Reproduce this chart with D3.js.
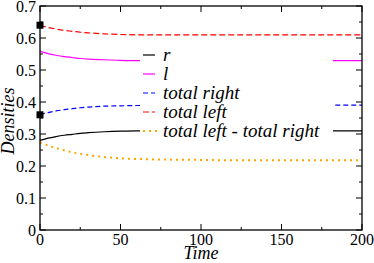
<!DOCTYPE html>
<html><head><meta charset="utf-8">
<script src="https://cdn.jsdelivr.net/npm/d3@7"></script>
<style>body{margin:0;background:#fff}svg{display:block}</style>
</head><body>
<svg id="c" width="374" height="263" font-family="Liberation Serif, DejaVu Serif, Times New Roman, Times, serif"></svg>
<script>
const times = [0, 5, 10, 15, 20, 25, 30, 40, 50, 60, 80, 100, 120, 140, 160, 180, 200];
const rVals  = [0.280, 0.287, 0.292, 0.296, 0.299, 0.302, 0.304, 0.307, 0.309, 0.310, 0.310, 0.310, 0.310, 0.310, 0.310, 0.310, 0.310];
const lVals  = [0.558, 0.551, 0.546, 0.542, 0.539, 0.536, 0.534, 0.532, 0.530, 0.529, 0.529, 0.529, 0.529, 0.529, 0.529, 0.529, 0.529];
const totalRight = [0.360, 0.367, 0.372, 0.376, 0.379, 0.382, 0.384, 0.387, 0.388, 0.389, 0.390, 0.390, 0.390, 0.390, 0.390, 0.390, 0.390];
const totalLeft  = [0.640, 0.633, 0.628, 0.624, 0.621, 0.618, 0.616, 0.613, 0.611, 0.610, 0.610, 0.610, 0.610, 0.610, 0.610, 0.610, 0.610];
const diffVals   = [0.274, 0.264, 0.256, 0.249, 0.243, 0.238, 0.234, 0.228, 0.224, 0.222, 0.220, 0.219, 0.218, 0.218, 0.218, 0.218, 0.218];
const markerTimes = [0, 0];
const markerVals = [0.64, 0.36];
const seriesNames = ["r", "l", "total right", "total left", "total left - total right"];
const xTicks = [0, 50, 100, 150, 200];
const xMinor = [25, 75, 125, 175];
const yTicks = [0, 0.1, 0.2, 0.3, 0.4, 0.5, 0.6, 0.7];
const yTickLabels = ["0", "0.1", "0.2", "0.3", "0.4", "0.5", "0.6", "0.7"];
const yMinor = [0.05, 0.15, 0.25, 0.35, 0.45, 0.55, 0.65];

const L = 40, R = 362, T = 6, B = 230;
const x = d3.scaleLinear().domain([0, 200]).range([L, R]);
const y = d3.scaleLinear().domain([0, 0.7]).range([B, T]);
const svg = d3.select("#c");
const FF = "Liberation Serif, DejaVu Serif, Times New Roman, Times, serif";

const styles = [
  {color: "#000000", dash: null, w: 1.2},
  {color: "#ff00ff", dash: null, w: 1.2},
  {color: "#0000ff", dash: "5,3", w: 1.2},
  {color: "#ff0000", dash: "6,3", w: 1.2},
  {color: "#ffa500", dash: "2,4", w: 2}
];
const seriesVals = [rVals, lVals, totalRight, totalLeft, diffVals];

const line = d3.line().x(d => x(d[0])).y(d => y(d[1])).curve(d3.curveMonotoneX);
const gLines = svg.append("g");
seriesVals.forEach((vals, i) => {
  const s = styles[i];
  gLines.append("path")
    .attr("d", line(times.map((t, j) => [t, vals[j]])))
    .attr("fill", "none")
    .attr("stroke", s.color)
    .attr("stroke-width", s.w)
    .attr("stroke-dasharray", s.dash);
});

// legend (white box hides curves)
const lg = svg.append("g");
lg.append("rect").attr("x", 140).attr("y", 42).attr("width", 193).attr("height", 100).attr("fill", "#fff");
seriesNames.forEach((name, i) => {
  const s = styles[i];
  const ly = 55 + i * 19;
  lg.append("line").attr("x1", 143).attr("x2", i === 4 ? 157 : 155).attr("y1", ly).attr("y2", ly)
    .attr("stroke", s.color).attr("stroke-width", s.w)
    .attr("stroke-dasharray", s.dash);
  lg.append("text").attr("x", 163).attr("y", ly + 6).text(name)
    .attr("font-family", FF).attr("font-style", "italic").attr("font-size", 19).attr("fill", "#000");
});

// frame
svg.append("rect").attr("x", L).attr("y", T).attr("width", R - L).attr("height", B - T)
  .attr("fill", "none").attr("stroke", "#000").attr("stroke-width", 1.3);

const tk = svg.append("g").attr("stroke", "#000").attr("stroke-width", 1);
xTicks.forEach(t => {
  tk.append("line").attr("x1", x(t)).attr("x2", x(t)).attr("y1", B).attr("y2", B - 6);
  tk.append("line").attr("x1", x(t)).attr("x2", x(t)).attr("y1", T).attr("y2", T + 6);
});
xMinor.forEach(t => {
  tk.append("line").attr("x1", x(t)).attr("x2", x(t)).attr("y1", B).attr("y2", B - 3);
  tk.append("line").attr("x1", x(t)).attr("x2", x(t)).attr("y1", T).attr("y2", T + 3);
});
yTicks.forEach(v => {
  tk.append("line").attr("x1", L).attr("x2", L + 6).attr("y1", y(v)).attr("y2", y(v));
  tk.append("line").attr("x1", R).attr("x2", R - 6).attr("y1", y(v)).attr("y2", y(v));
});
yMinor.forEach(v => {
  tk.append("line").attr("x1", L).attr("x2", L + 3).attr("y1", y(v)).attr("y2", y(v));
  tk.append("line").attr("x1", R).attr("x2", R - 3).attr("y1", y(v)).attr("y2", y(v));
});

// tick labels
xTicks.forEach(t => {
  svg.append("text").attr("x", x(t)).attr("y", 245).attr("text-anchor", "middle")
    .attr("font-family", FF).attr("font-size", 16).text(String(t));
});
yTicks.forEach((v, i) => {
  svg.append("text").attr("x", 36).attr("y", y(v) + 6).attr("text-anchor", "end")
    .attr("font-family", FF).attr("font-size", 16).text(yTickLabels[i]);
});

// markers
svg.selectAll("rect.mk").data(markerTimes.map((t, i) => [t, markerVals[i]])).enter()
  .append("rect").attr("class", "mk")
  .attr("x", d => x(d[0]) - 3.5).attr("y", d => y(d[1]) - 3.5)
  .attr("width", 7).attr("height", 7).attr("fill", "#000");

// axis titles
svg.append("text").attr("x", 201).attr("y", 259).attr("text-anchor", "middle")
  .attr("font-family", FF).attr("font-style", "italic").attr("font-size", 18).text("Time");
svg.append("text").attr("transform", "translate(14,121) rotate(-90)").attr("text-anchor", "middle")
  .attr("font-family", FF).attr("font-style", "italic").attr("font-size", 18).text("Densities");
</script>
</body></html>
